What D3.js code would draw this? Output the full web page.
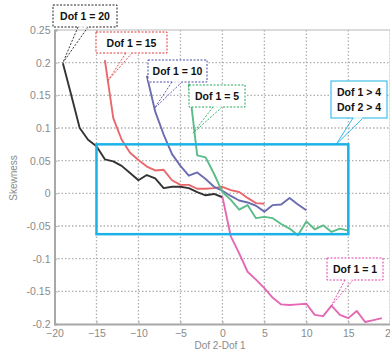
<!DOCTYPE html>
<html>
<head>
<meta charset="utf-8">
<script src="https://cdn.jsdelivr.net/npm/d3@7"></script>
<style>
html,body{margin:0;padding:0;background:#fff;}
svg{display:block;overflow:hidden;}
</style>
</head>
<body>
<svg id="chart" width="390" height="357"></svg>
<script>
// ---- data ----
const dof1Labels = ["Dof 1 = 20", "Dof 1 = 15", "Dof 1 = 10", "Dof 1 = 5", "Dof 1 = 1"];
const xStart = [-19, -14, -9, -4, 0];   // Dof2 - Dof1 for Dof2 = 1
const skew20 = [0.199, 0.150, 0.100, 0.082, 0.072, 0.052, 0.049, 0.042, 0.031, 0.020, 0.028, 0.023, 0.008, 0.010, 0.010, 0.008, 0.002, -0.003, -0.001, -0.006];
const skew15 = [0.204, 0.115, 0.082, 0.062, 0.051, 0.041, 0.035, 0.036, 0.020, 0.013, 0.013, 0.007, 0.007, 0.008, 0.010, 0.005, 0.002, -0.007, -0.015, -0.016];
const skew10 = [0.180, 0.125, 0.090, 0.060, 0.042, 0.027, 0.032, 0.022, 0.010, 0.004, -0.004, -0.011, -0.014, -0.019, -0.028, -0.018, -0.017, -0.007, -0.017, -0.026];
const skew5  = [0.168, 0.058, 0.055, 0.030, 0.002, -0.010, -0.025, -0.018, -0.038, -0.036, -0.038, -0.047, -0.054, -0.064, -0.043, -0.055, -0.049, -0.059, -0.054, -0.057];
const skew1  = [-0.005, -0.066, -0.092, -0.120, -0.132, -0.145, -0.160, -0.170, -0.171, -0.170, -0.169, -0.186, -0.188, -0.172, -0.186, -0.191, -0.180, -0.197, -0.194, -0.191];
const xTicks = [-20, -15, -10, -5, 0, 5, 10, 15, 20];
const yTicks = [-0.2, -0.15, -0.1, -0.05, 0, 0.05, 0.1, 0.15, 0.2, 0.25];
const yTickLabels = ["-0.2", "-0.15", "-0.1", "-0.05", "0", "0.05", "0.1", "0.15", "0.2", "0.25"];
const regionX = [-15, 15];
const regionY = [-0.0625, 0.075];
const regionLabel = ["Dof 1 > 4", "Dof 2 > 4"];
// annotation anchor points (data coords)
const anchorX = [-19, -13.6, -8.1, -3.5, 12.95];
const anchorY = [0.2, 0.173, 0.130, 0.092, -0.1725];
const regionAnchor = [13.55, 0.075];

// ---- layout & style ----
const seriesColors = ["#333333", "#e8686c", "#6c6cb0", "#5cbc88", "#e468b4"];
const boxColors = ["#222222", "#e03a3a", "#4a4aa8", "#22a85a", "#e040a8"];
const boxes = [ // x, y, w, h, pointer base x0, x1
  [53, 5, 64, 22, 78, 88],
  [96, 32, 71, 21, 126, 132],
  [148, 60, 59, 22, 172, 182],
  [189, 85, 56, 22, 213, 222],
  [327, 258, 56, 22, 345, 353]
];
const regionBox = [331, 81, 56, 37, 353, 363];
const cyan = "#1cb2e8";

const svg = d3.select("#chart");
const x = d3.scaleLinear().domain([-20, 20]).range([54.5, 390.3]);
const y = d3.scaleLinear().domain([-0.2, 0.25]).range([324, 30]);

// grid
const g = svg.append("g");
g.selectAll("line.vg").data(xTicks.filter(d => d > -20)).enter().append("line")
  .attr("x1", d => x(d)).attr("x2", d => x(d)).attr("y1", y(0.25)).attr("y2", y(-0.2))
  .attr("stroke", "#b0b0b0").attr("stroke-width", 1.3).attr("stroke-dasharray", "1.5,2");
g.selectAll("line.hg").data(yTicks.filter(d => d > -0.2 && d < 0.25)).enter().append("line")
  .attr("x1", x(-20)).attr("x2", x(20)).attr("y1", d => y(d)).attr("y2", d => y(d))
  .attr("stroke", "#b0b0b0").attr("stroke-width", 1.3).attr("stroke-dasharray", "1.5,2");

// frame top/right
svg.append("line").attr("x1", x(-20)).attr("x2", x(20)).attr("y1", y(0.25)).attr("y2", y(0.25))
  .attr("stroke", "#b8b8b8").attr("stroke-width", 1.2);
svg.append("line").attr("x1", x(20)).attr("x2", x(20)).attr("y1", y(0.25)).attr("y2", y(-0.2))
  .attr("stroke", "#b8b8b8").attr("stroke-width", 1.2);

// axes
const xAxis = d3.axisBottom(x).tickValues(xTicks).tickSize(-3).tickPadding(6).tickFormat(d3.format("d"));
const yAxis = d3.axisLeft(y).tickValues(yTicks).tickSize(-3).tickPadding(4).tickFormat((d, i) => yTickLabels[i]);
const gx = svg.append("g").attr("transform", `translate(0,${y(-0.2)})`).call(xAxis);
const gy = svg.append("g").attr("transform", `translate(${x(-20)},0)`).call(yAxis);
[gx, gy].forEach(a => {
  a.select(".domain").attr("stroke", "#a8a8a8").attr("stroke-width", 2);
  a.selectAll(".tick line").attr("stroke", "#a8a8a8");
  a.selectAll(".tick text").attr("fill", "#8a8a8a").attr("font-family", "Liberation Sans, Arial, sans-serif").attr("font-size", 10.5);
});

// series lines
const allSeries = [skew20, skew15, skew10, skew5, skew1];
const line = d3.line().x(d => x(d[0])).y(d => y(d[1]));
allSeries.forEach((vals, i) => {
  const pts = vals.map((v, j) => [xStart[i] + j, v]);
  svg.append("path").datum(pts).attr("d", line).attr("fill", "none")
    .attr("stroke", seriesColors[i]).attr("stroke-width", 1.9).attr("stroke-linejoin", "round");
});

// region rectangle
svg.append("rect")
  .attr("x", x(regionX[0])).attr("y", y(regionY[1]))
  .attr("width", x(regionX[1]) - x(regionX[0])).attr("height", y(regionY[0]) - y(regionY[1]))
  .attr("fill", "none").attr("stroke", cyan).attr("stroke-width", 2.5);

// axis titles
svg.append("text").attr("x", 220).attr("y", 349).attr("text-anchor", "middle")
  .attr("fill", "#8a8a8a").attr("font-family", "Liberation Sans, Arial, sans-serif").attr("font-size", 10).text("Dof 2-Dof 1");
svg.append("text").attr("transform", "translate(17,178) rotate(-90)").attr("text-anchor", "middle")
  .attr("fill", "#8a8a8a").attr("font-family", "Liberation Sans, Arial, sans-serif").attr("font-size", 10).text("Skewness");

// annotations
function callout(b, color, lines, ax, ay, dashed) {
  const [bx, by, bw, bh, p0, p1] = b;
  const ga = svg.append("g");
  ga.append("rect").attr("x", bx).attr("y", by).attr("width", bw).attr("height", bh)
    .attr("fill", "#fff").attr("stroke", color).attr("stroke-width", 1)
    .attr("stroke-dasharray", dashed ? "2,1.5" : null);
  ga.append("line").attr("x1", p0).attr("y1", by + bh).attr("x2", ax).attr("y2", ay)
    .attr("stroke", color).attr("stroke-width", 0.9).attr("stroke-dasharray", dashed ? "2,1.5" : null);
  ga.append("line").attr("x1", p1).attr("y1", by + bh).attr("x2", ax).attr("y2", ay)
    .attr("stroke", color).attr("stroke-width", 0.9).attr("stroke-dasharray", dashed ? "2,1.5" : null);
  ga.append("line").attr("x1", p0 + 0.5).attr("y1", by + bh).attr("x2", p1 - 0.5).attr("y2", by + bh)
    .attr("stroke", "#fff").attr("stroke-width", 1.5);
  const lh = 15;
  const y0 = by + bh / 2 - (lines.length - 1) * lh / 2 + 4;
  lines.forEach((t, k) => {
    ga.append("text").attr("x", bx + bw / 2).attr("y", y0 + k * lh).attr("text-anchor", "middle")
      .attr("font-family", "Liberation Sans, Arial, sans-serif").attr("font-weight", "bold")
      .attr("font-size", 10.5).attr("fill", "#111").text(t);
  });
}
boxes.forEach((b, i) => callout(b, boxColors[i], [dof1Labels[i]], x(anchorX[i]), y(anchorY[i]), true));
callout(regionBox, cyan, regionLabel, x(regionAnchor[0]), y(regionAnchor[1]), false);
</script>
</body>
</html>
